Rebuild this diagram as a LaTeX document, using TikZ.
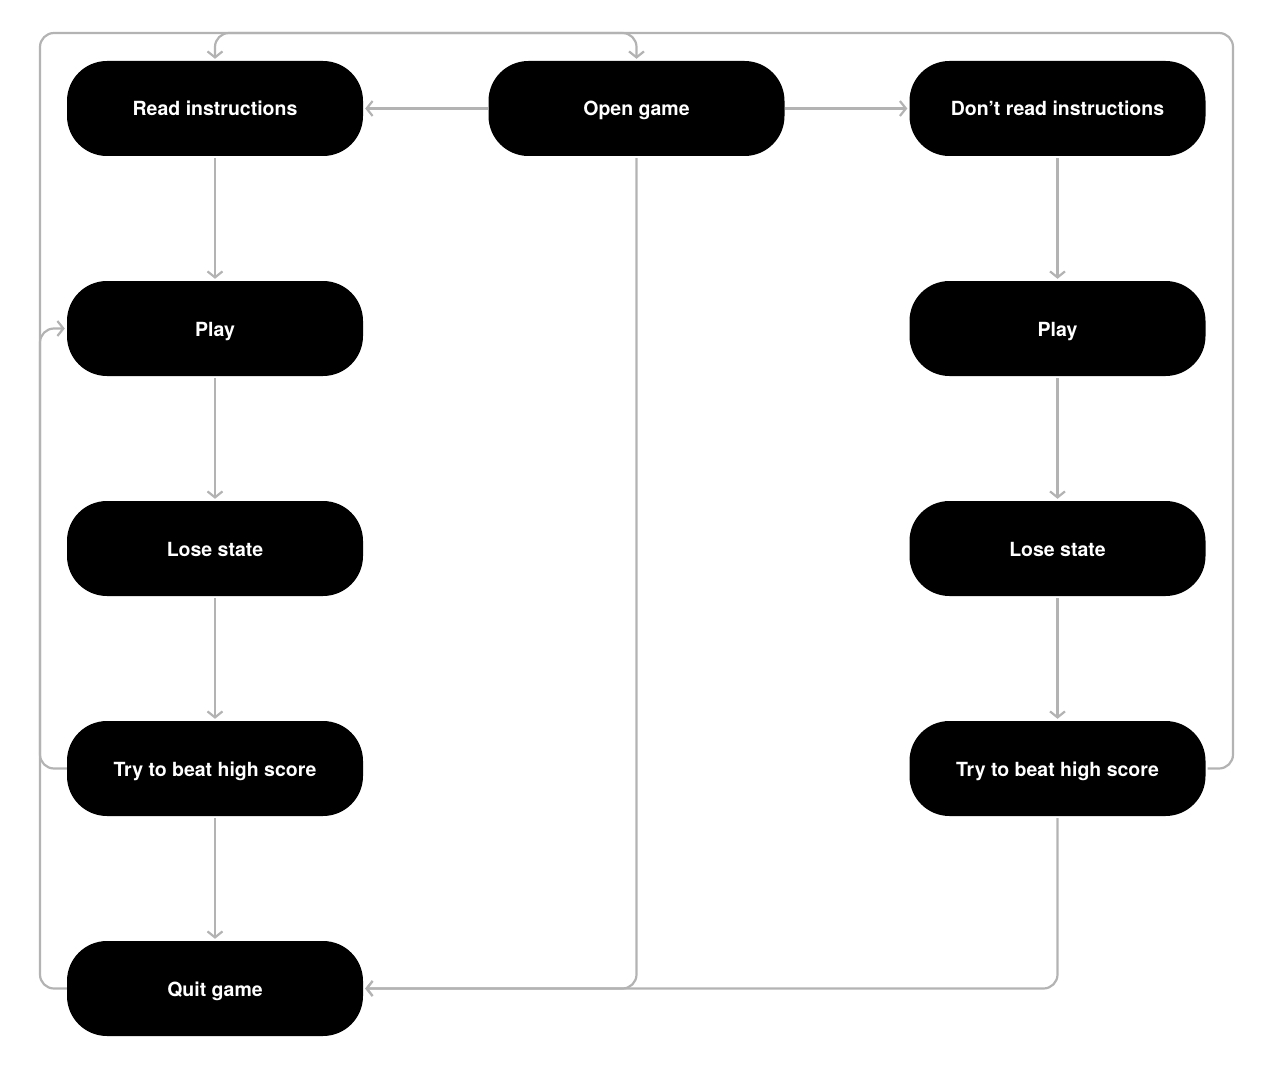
\documentclass[tikz,border=0pt]{standalone}
\usepackage{fontspec}
\setmainfont{TeX Gyre Heros}
\usetikzlibrary{arrows.meta}
\definecolor{conn}{HTML}{B3B3B3}
\tikzset{
  box/.style={fill=black, text=white, rounded corners=40pt, minimum width=296pt,
    minimum height=95pt, inner sep=0pt, text height=15pt, text depth=0pt,
    font=\fontsize{19.5}{22}\selectfont\bfseries},
  link/.style={draw=conn, line width=2.2pt, rounded corners=14pt,
    -{Straight Barb[length=6pt,width=15pt,line width=2.2pt]}, shorten >=2pt}
}
\begin{document}
\begin{tikzpicture}[x=1pt,y=-1pt]
\useasboundingbox (0,0) rectangle (1280,1070);
\node[box] (ri) at (215,108.5) {Read instructions};
\node[box] (og) at (636.5,108.5) {Open game};
\node[box] (dr) at (1057.5,108.5) {Don’t read instructions};
\node[box] (lp) at (215,328.5) {Play};
\node[box] (ll) at (215,548.5) {Lose state};
\node[box] (lt) at (215,768.5) {Try to beat high score};
\node[box] (qg) at (215,988.5) {Quit game};
\node[box] (rp) at (1057.5,328.5) {Play};
\node[box] (rl) at (1057.5,548.5) {Lose state};
\node[box] (rt) at (1057.5,768.5) {Try to beat high score};
\coordinate (lx1) at (40,768.5);
\coordinate (lx2) at (40,328.5);
\coordinate (lx3) at (40,988.5);
\coordinate (tl) at (40,33);
\coordinate (tog) at (636.5,33);
\coordinate (tri) at (215,33);
\coordinate (rx1) at (1233,768.5);
\coordinate (tr) at (1233,33);
% horizontal from Open game
\draw[link] (og.west) -- (ri.east);
\draw[link] (og.east) -- (dr.west);
% left column
\draw[link, shorten <=2pt] (ri.south) -- (lp.north);
\draw[link, shorten <=2pt] (lp.south) -- (ll.north);
\draw[link, shorten <=2pt] (ll.south) -- (lt.north);
\draw[link, shorten <=2pt] (lt.south) -- (qg.north);
% right column
\draw[link, shorten <=2pt] (dr.south) -- (rp.north);
\draw[link, shorten <=2pt] (rp.south) -- (rl.north);
\draw[link, shorten <=2pt] (rl.south) -- (rt.north);
% to Quit game
\draw[link, shorten <=2pt] (og.south) |- (qg.east);
\draw[link, shorten <=2pt] (rt.south) |- (qg.east);
% loops on the left
\draw[link] (lt.west) -- (lx1) -- (lx2) -- (lp.west);
\draw[link] (qg.west) -- (lx3) -- (tl) -- (tog) -- (og.north);
% loop on the right
\draw[link, shorten <=2pt] (rt.east) -- (rx1) -- (tr) -- (tri) -- (ri.north);
\end{tikzpicture}
\end{document}
